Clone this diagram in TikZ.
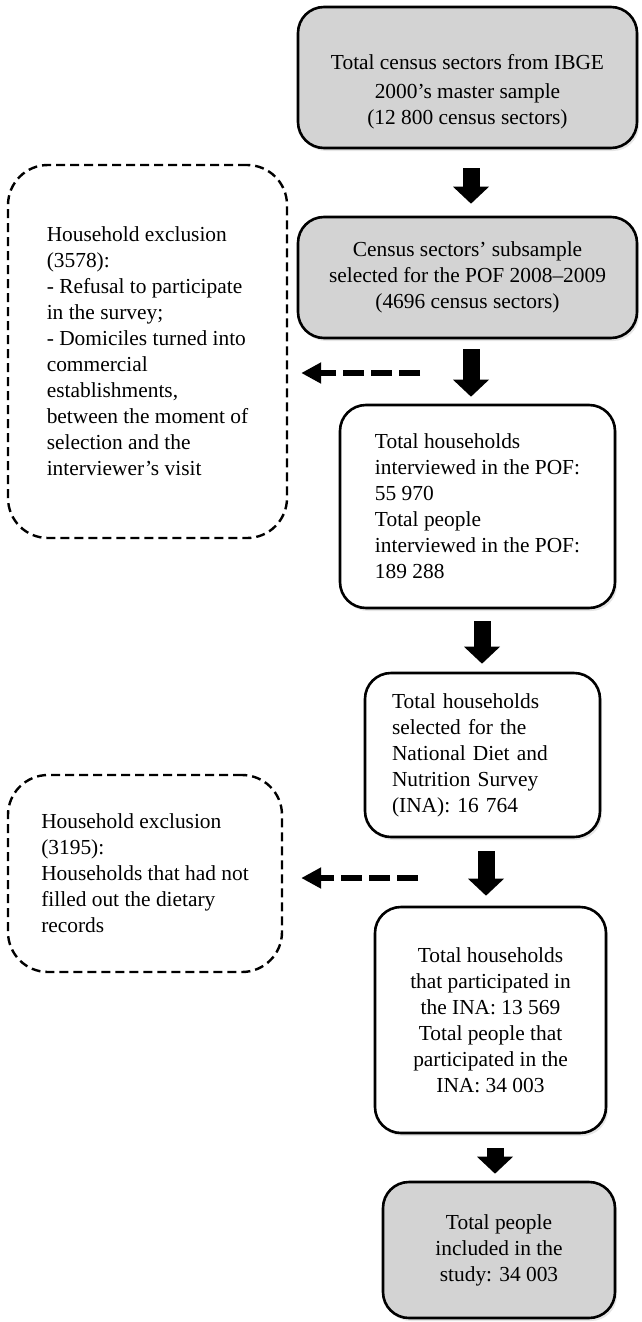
\documentclass[tikz,border=0pt]{standalone}
\usepackage{fontspec}
\setmainfont{Liberation Serif}
\usetikzlibrary{arrows.meta,shadows}
\definecolor{boxgrey}{RGB}{211,211,211}

\begin{document}
\begin{tikzpicture}[x=1pt, y=-1pt,
        every node/.style={font=\fontsize{21.4}{26}\selectfont},
        solidbox/.style={draw, line width=2.6pt, rounded corners=26pt, align=center, inner sep=0pt,
            drop shadow={shadow xshift=2pt, shadow yshift=-3pt, opacity=0.2}},
        greybox/.style={solidbox, fill=boxgrey},
        whitebox/.style={solidbox, fill=white},
        exclbox/.style={draw, line width=2.4pt, dash pattern=on 9pt off 5pt, rounded corners=40pt,
            fill=white, align=left, inner sep=0pt},
        downarrow/.style={line width=17pt, -{Triangle[length=17pt, width=35pt]}},
        sidearrow/.style={line width=6pt, dash pattern=on 21pt off 7pt, -{Triangle[length=20pt, width=20pt]}}]
        \useasboundingbox (0,0) rectangle (641,1322);
        \node[greybox, minimum width=339pt, minimum height=141pt] (sample) at (467.5,77.5)
            {\rule{0pt}{44pt}Total census sectors from IBGE\\[3pt]2000’s master sample\\(12 800 census sectors)};
        \node[greybox, minimum width=339pt, minimum height=121pt] (subsample) at (467.5,277.5)
            {Census sectors’ subsample\\selected for the POF 2008--2009\\(4696 census sectors)};
        \node[exclbox, minimum width=279pt, minimum height=373pt] (refusal) at (147.5,351.5)
            {Household exclusion\\(3578):\\- Refusal to participate\\in the survey;\\- Domiciles turned into\\commercial\\establishments,\\between the moment of\\selection and the\\interviewer’s visit};
        \node[whitebox, align=left, minimum width=275pt, minimum height=203pt] (interviewed) at (477.5,506.5)
            {Total households\\interviewed in the POF:\\55 970\\Total people\\interviewed in the POF:\\189 288};
        \node[whitebox, align=left, text width=181pt, inner xsep=27pt, minimum height=164pt] (selected) at (482.5,755)
            {Total households\\selected for the\\National Diet and\\Nutrition Survey\\(INA): 16 764};
        \node[exclbox, minimum width=274pt, minimum height=197pt] (norecords) at (145,873.5)
            {Household exclusion\\(3195):\\Households that had not\\filled out the dietary\\records};
        \node[whitebox, minimum width=231pt, minimum height=226pt] (participated) at (490.5,1020)
            {Total households\\that participated in\\the INA: 13 569\\Total people that\\participated in the\\INA: 34 003};
        \node[greybox, minimum width=232pt, minimum height=136pt] (included) at (499,1250)
            {Total people\\included in the\\study: 34 003};
        \draw[downarrow, shorten <=19pt, shorten >=12pt] ([xshift=3.5pt]sample.south) -- ([xshift=3.5pt]sample.south |- subsample.north);
        \draw[downarrow, shorten <=10pt, shorten >=7pt] ([xshift=3.5pt]subsample.south) -- ([xshift=3.5pt]subsample.south |- interviewed.north);
        \draw[downarrow, shorten <=12pt, shorten >=8pt] ([xshift=4.5pt]interviewed.south) -- ([xshift=4.5pt]interviewed.south |- selected.north);
        \draw[downarrow, shorten <=13pt, shorten >=10pt] ([xshift=3.5pt]selected.south) -- ([xshift=3.5pt]selected.south |- participated.north);
        \draw[downarrow, shorten <=14pt, shorten >=7pt] ([xshift=4.5pt]participated.south) -- ([xshift=4.5pt]participated.south |- included.north);
        \coordinate (fork1) at (420,373);
        \draw[sidearrow, shorten >=13pt] (fork1) -- (fork1 -| refusal.east);
        \coordinate (fork2) at (418,878);
        \draw[sidearrow, shorten >=18pt] (fork2) -- (fork2 -| norecords.east);
    \end{tikzpicture}
\end{document}
